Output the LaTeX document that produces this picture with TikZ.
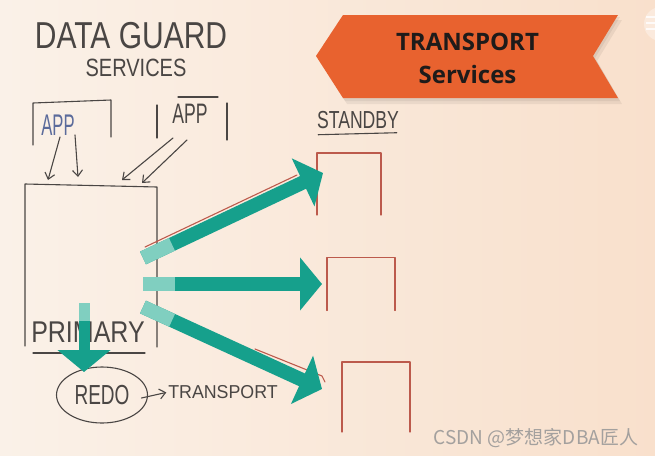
\documentclass[tikz,border=0pt]{standalone}
\usepackage{fontspec,graphicx}
\setmainfont{Liberation Sans}
\newfontfamily\bannerfont{Open Sans}
\newfontfamily\cjkfont{Noto Sans CJK SC}
\usetikzlibrary{arrows.meta,positioning,shapes.geometric,calc}
\definecolor{boardl}{HTML}{FAF1E8}
\definecolor{boardr}{HTML}{F9E0CC}
\definecolor{ink}{HTML}{4A4644}
\definecolor{appblue}{HTML}{5B6B9B}
\definecolor{redink}{HTML}{BC5A4C}
\definecolor{teal}{HTML}{16A08C}
\definecolor{pteal}{HTML}{80CFC0}
\definecolor{orange}{HTML}{E8622F}
\definecolor{bantext}{HTML}{1E1B1A}
\definecolor{wmgray}{HTML}{A3A09E}
\newcommand\handtext[3]{{\fontsize{#1}{#1}\selectfont\scalebox{1}[#2]{#3}}}

\begin{document}
\begin{tikzpicture}[x=0.5pt,y=-0.5pt, every node/.style={inner sep=0pt,outer sep=0pt,text=ink}, slot/.style 2 args={minimum width=#1*0.5pt,minimum height=#2*0.5pt}, pen/.style={draw=ink,line width=0.55pt,line cap=round,line join=round}, redpen/.style={draw=redink,line width=0.55pt,line cap=round,line join=round}, penarr/.style={pen,-{Straight Barb[length=3pt,width=5pt]}}, fat/.style={draw=teal,line width=#1,-{Triangle[length=11pt,width=26pt]}}, tail/.style={draw=pteal,line width=#1}]
\useasboundingbox (0,0) rectangle (655,456);
\shade[left color=boardl,right color=boardr] (0,0) rectangle (655,456);
% title and apps
\node (title) at (131,36) {\handtext{15}{1.25}{DATA GUARD}};
\node (sub) at (136,68) {\handtext{10}{1.25}{SERVICES}};
\node[slot={78}{45}] (app1) at (72,122.5) {};
\node[slot={70}{43}] (app2) at (192,118.5) {};
\node[text=appblue] (app1txt) at (58,125) {\handtext{8.3}{1.8}{APP}};
\node (app2txt) at (190,114) {\handtext{8.8}{1.6}{APP}};
\draw[pen] (app1.south west) -- ($(app1.north west)+(0,3)$) -- (app1.north east) -- ($(app1.south east)+(0,-8)$);
\draw[pen] ($(app2.south west)+(0,-2)$) -- ($(app2.north west)+(0,8)$);\draw[pen] ($(app2.north west)+(21,0)$) -- ($(app2.north east)+(-9,0)$);\draw[pen] ($(app2.north east)+(0,6)$) -- (app2.south east);
% primary
\node[slot={132}{166}] (primary) at (91,267) {};
\draw[pen] ($(primary.south west)+(0,-4)$) -- (primary.north west) -- ($(primary.north east)+(0,3)$) -- ($(primary.south east)+(0,-3)$);
\node (primtxt) at (88,332) {\handtext{12.5}{1.2}{PRIMARY}};
\draw[pen] ($(primary.south west)+(8,3)$) -- ($(primary.south east)+(-12,3)$);
\draw[penarr] ($(app1.south)+(-12,-8)$) -- ($(primary.north)+(-43,-4)$);\draw[penarr] ($(app1.south)+(3,-10)$) -- ($(primary.north)+(-13,-7)$);
\draw[penarr] ($(app2.south)+(-19,-2)$) -- ($(primary.north)+(31,-4)$);\draw[penarr] ($(app2.south)+(-5,0)$) -- ($(primary.north)+(51,-1)$);
% redo
\node[draw=ink,line width=0.55pt,ellipse,slot={91}{56}] (redo) at (102,395) {\handtext{9.5}{1.45}{REDO}};
\node (transport) at (223,392) {\handtext{8.9}{1.05}{TRANSPORT}};
\draw[penarr,shorten >=1pt] ($(redo.east)+(-6,3)$) -- (transport.west);
% standby
\node (standby) at (358,120) {\handtext{8.8}{1.4}{STANDBY}};
\draw[pen] ($(standby.south west)+(1,6)$) -- ($(standby.south east)+(-2,4)$);
\node[slot={64}{62}] (sb1) at (349,184) {};
\node[slot={68}{53}] (sb2) at (361,284) {};
\node[slot={68}{70}] (sb3) at (376,397) {};
\foreach \s in {sb1,sb2,sb3} \draw[redpen] (\s.south west) |- (\s.north east) -- (\s.south east);
\draw[redpen] ($(primary.east)+(-12,-20)$) -- ($(sb1.west)+(-20,-9)$);
\draw[redpen] ($(sb3.west)+(-87,-48)$) -- ($(sb3.west)+(-20,-21)$) -- ++(3,6);
% transport arrows
\coordinate (t1) at ($(primary.east)+(-14,-9)$);\coordinate (h1) at ($(sb1.west)+(6,-11)$);
\coordinate (t2) at ($(primary.east)+(-14,17)$);\coordinate (h2) at ($(sb2.west)+(-5,0)$);
\coordinate (t3) at ($(primary.east)+(-14,40)$);\coordinate (h3) at ($(sb3.west)+(-20,-8)$);
\coordinate (d0) at ($(primary.south)+(-7,-47)$);\coordinate (d1) at ($(redo.north)+(-18,5)$);
\foreach \a in {1,2,3} {\draw[fat=7pt] (t\a) -- (h\a); \draw[tail=7pt] (t\a) -- ($(t\a)!16pt!(h\a)$);}
\draw[fat=5.5pt] (d0) -- (d1); \draw[tail=5.5pt] (d0) -- ($(d0)!9pt!(d1)$);
% banner
\fill[black,opacity=0.06] (347,20) -- (622,20) -- (597,61) -- (622,104) -- (347,104) -- (320,61) -- cycle;
\fill[black,opacity=0.06] (345,17) -- (620,17) -- (595,58) -- (620,101) -- (345,101) -- (318,58) -- cycle;
\fill[orange] (343,15) -- (618,15) -- (593,56) -- (618,98) -- (343,98) -- (316,56) -- cycle;
\node[text=bantext,align=center,font=\bannerfont\bfseries\fontsize{12}{16.5}\selectfont] (banner) at (467.5,58) {TRANSPORT\\Services};
\fill[white,opacity=0.35] (661,24) circle (17);
\foreach \y in {17,23,29} \draw[white,opacity=0.8,line width=1pt] (646,\y) -- (655,\y);
\node[text=wmgray,font=\cjkfont\fontsize{9.5}{10}\selectfont] (mark) at (536,438) {CSDN @梦想家DBA匠人};
\end{tikzpicture}
\end{document}
